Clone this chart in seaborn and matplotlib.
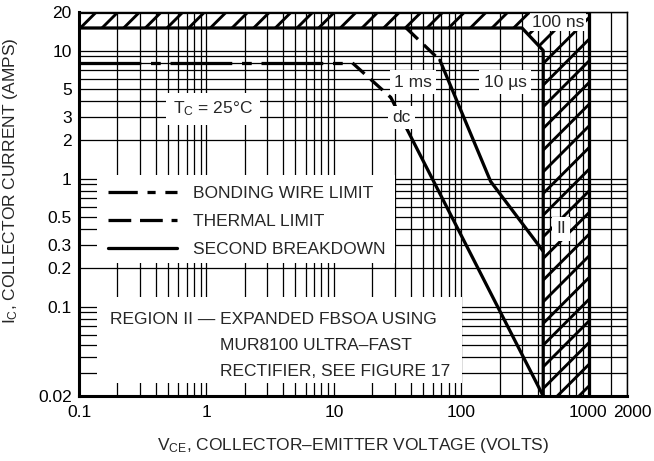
import numpy as np
import pandas as pd
import matplotlib
matplotlib.use("Agg")
import matplotlib.pyplot as plt
from matplotlib.lines import Line2D
from matplotlib.patches import Rectangle
from matplotlib.ticker import FixedLocator, NullFormatter
from matplotlib.transforms import ScaledTranslation
import seaborn as sns

# -----------------------------
# Data
# -----------------------------
bond_v = [0.1, 14]
bond_i = [8, 8]

dc_thermal_v = [14, 28]
dc_thermal_i = [8, 4.3]
dc_sb_v = [28, 440]
dc_sb_i = [4.3, 0.02]

ms_thermal_v = [37, 68]
ms_thermal_i = [15, 8.4]
ms_sb_v = [68, 170, 440]
ms_sb_i = [8.4, 0.95, 0.27]

# 100 ns outer boundary / 10 us inner boundary (hatched band between)
outer_v = [0.1, 1000, 1000]
outer_i = [20, 20, 0.02]
inner_v = [0.1, 300, 440, 440]
inner_i = [15, 15, 10, 0.02]

x_ticks = [0.1, 1, 10, 100, 1000, 2000]
x_ticklabels = ["0.1", "1", "10", "100", "1000", "2000"]
y_ticks = [0.02, 0.1, 0.2, 0.3, 0.5, 1, 2, 3, 5, 10, 20]
y_ticklabels = ["0.02", "0.1", "0.2", "0.3", "0.5", "1", "2", "3", "5", "10", "20"]

x_grid = [m * 10.0 ** e for e in range(-1, 3) for m in range(1, 10)] + [1000, 1500, 2000]
y_grid = [m * 10.0 ** e for e in range(-2, 2) for m in range(1, 10) if m * 10.0 ** e >= 0.02] + [20]

# -----------------------------
# Style
# -----------------------------
sns.set_style("white")
plt.rcParams["font.family"] = ["Liberation Sans", "DejaVu Sans"]
plt.rcParams["mathtext.fontset"] = "custom"
plt.rcParams["mathtext.rm"] = "Liberation Sans"
plt.rcParams["mathtext.it"] = "Liberation Sans"
plt.rcParams["hatch.linewidth"] = 1.6
plt.rcParams["hatch.color"] = "black"

FS = 9.6
LW = 1.8

fig = plt.figure(figsize=(654 / 130, 461 / 130), dpi=130)
ax = fig.add_axes([79 / 654, 1 - 396 / 461, 548 / 654, 384 / 461])
ax.set_xscale("log")
ax.set_yscale("log")
ax.set_xlim(0.1, 2000)
ax.set_ylim(0.02, 20)

# grid
ax.xaxis.set_minor_locator(FixedLocator(x_grid))
ax.yaxis.set_minor_locator(FixedLocator(y_grid))
ax.xaxis.set_minor_formatter(NullFormatter())
ax.yaxis.set_minor_formatter(NullFormatter())
ax.set_xticks(x_ticks)
ax.set_xticklabels(x_ticklabels)
ax.set_yticks(y_ticks)
ax.set_yticklabels(y_ticklabels)
ax.grid(True, which="both", color="black", linewidth=0.7)
ax.set_axisbelow(True)
ax.tick_params(which="both", length=0, labelsize=FS, colors="black")
ax.tick_params(axis="x", pad=5)
ax.tick_params(axis="y", pad=4)

# nudge the last x label so "1000 2000" do not collide
xl = ax.get_xticklabels()
xl[-1].set_transform(xl[-1].get_transform() + ScaledTranslation(5 / 130, 0, fig.dpi_scale_trans))
xl[-2].set_transform(xl[-2].get_transform() + ScaledTranslation(-1 / 130, 0, fig.dpi_scale_trans))

for side in ["left", "bottom"]:
    ax.spines[side].set_linewidth(1.7)
for side in ["right", "top"]:
    ax.spines[side].set_linewidth(0.8)
for s in ax.spines.values():
    s.set_color("black")
    s.set_zorder(5)

# hatched regions (100 ns / region II)
poly_v = np.concatenate([outer_v, inner_v[::-1]])
poly_i = np.concatenate([outer_i, inner_i[::-1]])
ax.fill(poly_v, poly_i, facecolor="none", edgecolor="black", hatch="//", linewidth=0, zorder=2)

def seg(v, i, ls):
    df = pd.DataFrame({"v": v, "i": i})
    sns.lineplot(data=df, x="v", y="i", ax=ax, color="black", linewidth=LW,
                 linestyle=ls, estimator=None, sort=False, zorder=3)

bond_ls = (0, (19, 3, 3, 3))
therm_ls = (0, (5, 2.5))

seg(outer_v, outer_i, "-")
seg(inner_v, inner_i, "-")
seg(bond_v, bond_i, bond_ls)
seg(dc_thermal_v, dc_thermal_i, therm_ls)
seg(dc_sb_v, dc_sb_i, "-")
seg(ms_thermal_v, ms_thermal_i, therm_ls)
seg(ms_sb_v, ms_sb_i, "-")

# labels on the plot
box = dict(boxstyle="square,pad=0.25", facecolor="white", edgecolor="none")
ax.text(1.13, 3.5, r"T$_\mathrm{C}$ = 25°C", fontsize=FS, ha="center", va="center", bbox=dict(boxstyle="square,pad=0.4", facecolor="white", edgecolor="none"), zorder=4)
ax.text(41.9, 5.65, "1 ms", fontsize=FS, ha="center", va="center", bbox=box, zorder=4)
ax.text(221, 5.65, "10 µs", fontsize=FS, ha="center", va="center", bbox=box, zorder=4)
ax.text(33.7, 3.0, "dc", fontsize=FS, ha="center", va="center", bbox=box, zorder=4)
ax.text(575, 16.7, "100 ns", fontsize=FS, ha="center", va="center", bbox=dict(boxstyle="square,pad=0.1", facecolor="white", edgecolor="none"), zorder=4)
ax.text(607, 0.405, "II", fontsize=FS, ha="center", va="center", bbox=box, zorder=4)

# legend area
ax.add_patch(Rectangle((0.0328, 0.3464), 0.5438, 0.2291, transform=ax.transAxes,
                       facecolor="white", edgecolor="none", zorder=2.5))
handles = [
    Line2D([], [], color="black", linewidth=LW, linestyle=(0, (9, 3, 2.5, 3))),
    Line2D([], [], color="black", linewidth=LW, linestyle=(0, (7, 2.7))),
    Line2D([], [], color="black", linewidth=LW, linestyle="-"),
]
leg = ax.legend(handles, ["BONDING WIRE LIMIT", "THERMAL LIMIT", "SECOND BREAKDOWN"],
                loc="upper left", bbox_to_anchor=(0.053, 0.546), frameon=False,
                fontsize=FS, handlelength=4.0, handletextpad=0.9, labelspacing=0.72,
                borderpad=0, borderaxespad=0)
leg.set_zorder(4)

# region II note
ax.add_patch(Rectangle((0.0328, 0.0339), 0.6662, 0.2239, transform=ax.transAxes,
                       facecolor="white", edgecolor="none", zorder=2.5))
ax.text(0.0566, 0.2005, "REGION II — EXPANDED FBSOA USING", transform=ax.transAxes,
        fontsize=FS, ha="left", va="center", zorder=4)
ax.text(0.2573, 0.1328, "MUR8100 ULTRA–FAST", transform=ax.transAxes,
        fontsize=FS, ha="left", va="center", zorder=4)
ax.text(0.2573, 0.0651, "RECTIFIER, SEE FIGURE 17", transform=ax.transAxes,
        fontsize=FS, ha="left", va="center", zorder=4)

ax.set_xlabel(r"V$_\mathrm{CE}$, COLLECTOR–EMITTER VOLTAGE (VOLTS)", fontsize=FS)
ax.set_ylabel(r"I$_\mathrm{C}$, COLLECTOR CURRENT (AMPS)", fontsize=FS)
ax.xaxis.set_label_coords(0.5, -0.105)
ax.yaxis.set_label_coords(-0.108, 0.56)

fig.savefig("out.png", dpi=130)
